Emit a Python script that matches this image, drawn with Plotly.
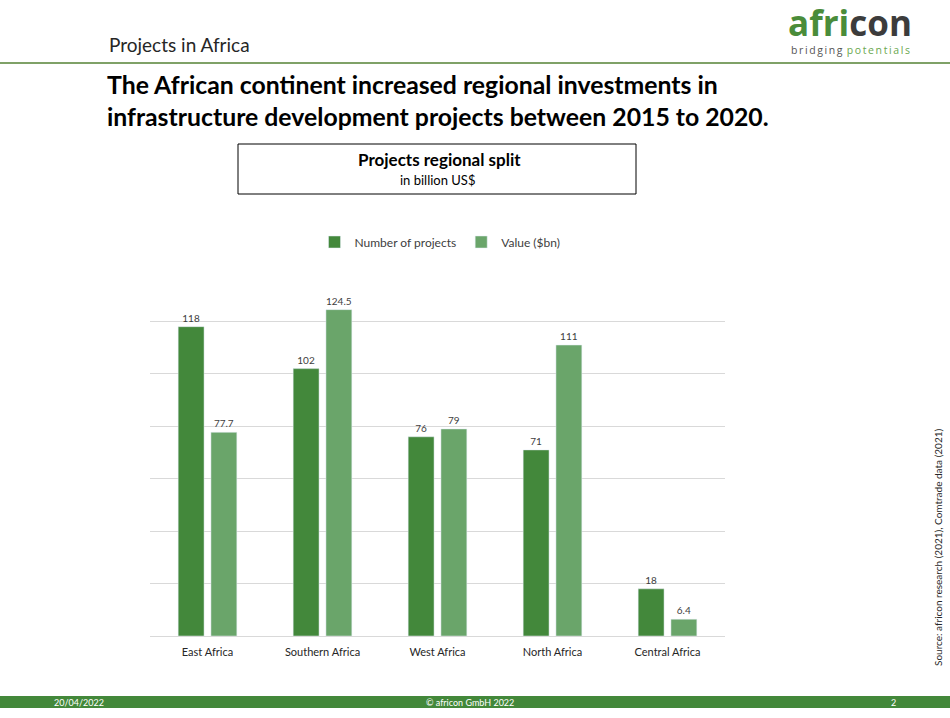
import plotly.graph_objects as go

W, H = 950, 718

regions = ["East Africa", "Southern Africa", "West Africa", "North Africa", "Central Africa"]
num_projects = [118, 102, 76, 71, 18]
value_bn = [77.7, 124.5, 79, 111, 6.4]
value_labels = ["77.7", "124.5", "79", "111", "6.4"]

DARK = "#43883b"
LIGHT = "#6aa56a"
FONT = "Lato, 'Open Sans', sans-serif"


def fx(px):
    return px / W


def fy(py):
    return 1 - py / H


fig = go.Figure()

fig.add_trace(go.Bar(
    x=regions, y=num_projects, name="Number of projects",
    marker_color=DARK,
    text=[str(v) for v in num_projects], textposition="outside",
    textfont=dict(size=10, color="#404040"), cliponaxis=False
))
fig.add_trace(go.Bar(
    x=regions, y=value_bn, name="Value ($bn)",
    marker_color=LIGHT,
    text=value_labels, textposition="outside",
    textfont=dict(size=10, color="#404040"), cliponaxis=False
))

fig.update_layout(
    width=W, height=H,
    margin=dict(l=0, r=0, t=0, b=0),
    paper_bgcolor="white", plot_bgcolor="white",
    font=dict(family=FONT, color="#404040"),
    barmode="group", bargap=0.43, bargroupgap=0.21,
    showlegend=True,
    legend=dict(orientation="h", x=fx(440), xanchor="center", y=fy(242), yanchor="middle",
                font=dict(size=12, color="#404040"), itemwidth=30, tracegroupgap=0),
    xaxis=dict(domain=[fx(150), fx(725)], showline=True, linecolor="#d9d9d9",
               tickfont=dict(size=11, color="#262626"), ticks="", showgrid=False,
               ticklabelstandoff=6),
    yaxis=dict(domain=[fy(636), fy(269)], range=[0, 140], dtick=20, showticklabels=False,
               gridcolor="#d9d9d9", zeroline=False),
)

shapes = [
    # header line
    dict(type="line", xref="paper", yref="paper", x0=0, x1=1, y0=fy(63), y1=fy(63),
         line=dict(color="#548235", width=1.5)),
    # subtitle box
    dict(type="rect", xref="paper", yref="paper", x0=fx(238), x1=fx(636), y0=fy(194), y1=fy(144),
         line=dict(color="black", width=1)),
    # footer band
    dict(type="rect", xref="paper", yref="paper", x0=0, x1=1, y0=fy(708), y1=fy(696),
         fillcolor="#43883a", line=dict(width=0)),
]
fig.update_layout(shapes=shapes)

ann = [
    dict(text="Projects in Africa", x=fx(107), y=fy(45), xanchor="left", yanchor="middle",
         font=dict(size=19, color="#262626")),
    dict(text="<b>The African continent increased regional investments in<br>"
              "infrastructure development projects between 2015 to 2020.</b>",
         x=fx(105), y=fy(100), xanchor="left", yanchor="middle", align="left",
         font=dict(size=24.8, color="black")),
    dict(text="<b>Projects regional split</b>", x=fx(439), y=fy(160), xanchor="center",
         yanchor="middle", font=dict(size=17, color="black")),
    dict(text="in billion US$", x=fx(437), y=fy(180), xanchor="center", yanchor="middle",
         font=dict(size=13, color="black")),
    # logo
    dict(text="<b><span style='color:#4a8c3a'>afri</span><span style='color:#3c3c3c'>con</span></b>",
         x=fx(850), y=fy(23), xanchor="center", yanchor="middle", borderpad=0,
         font=dict(size=35, family="'Open Sans', sans-serif")),
    dict(text="<span style='color:#555555;letter-spacing:1.6px'>bridging</span> "
              "<span style='color:#6aa84f;letter-spacing:1.6px'>potentials</span>",
         x=fx(851), y=fy(50), xanchor="center", yanchor="middle", borderpad=0,
         font=dict(size=10.5, family="'Open Sans', sans-serif")),
    dict(text="Source: africon research (2021), Comtrade data (2021)", textangle=-90,
         x=fx(938), y=fy(547), xanchor="center", yanchor="middle",
         font=dict(size=10, color="#262626")),
    # footer
    dict(text="20/04/2022", x=fx(52), y=fy(702), xanchor="left", yanchor="middle",
         font=dict(size=9, color="white")),
    dict(text="© africon GmbH 2022", x=fx(470), y=fy(702), xanchor="center", yanchor="middle",
         font=dict(size=9, color="white")),
    dict(text="2", x=fx(893), y=fy(702), xanchor="center", yanchor="middle",
         font=dict(size=9, color="white")),
]
for a in ann:
    a.update(xref="paper", yref="paper", showarrow=False)
fig.update_layout(annotations=ann)

fig.write_html("out.html", config={"displayModeBar": False},
               post_script="document.body.style.margin='0';")
